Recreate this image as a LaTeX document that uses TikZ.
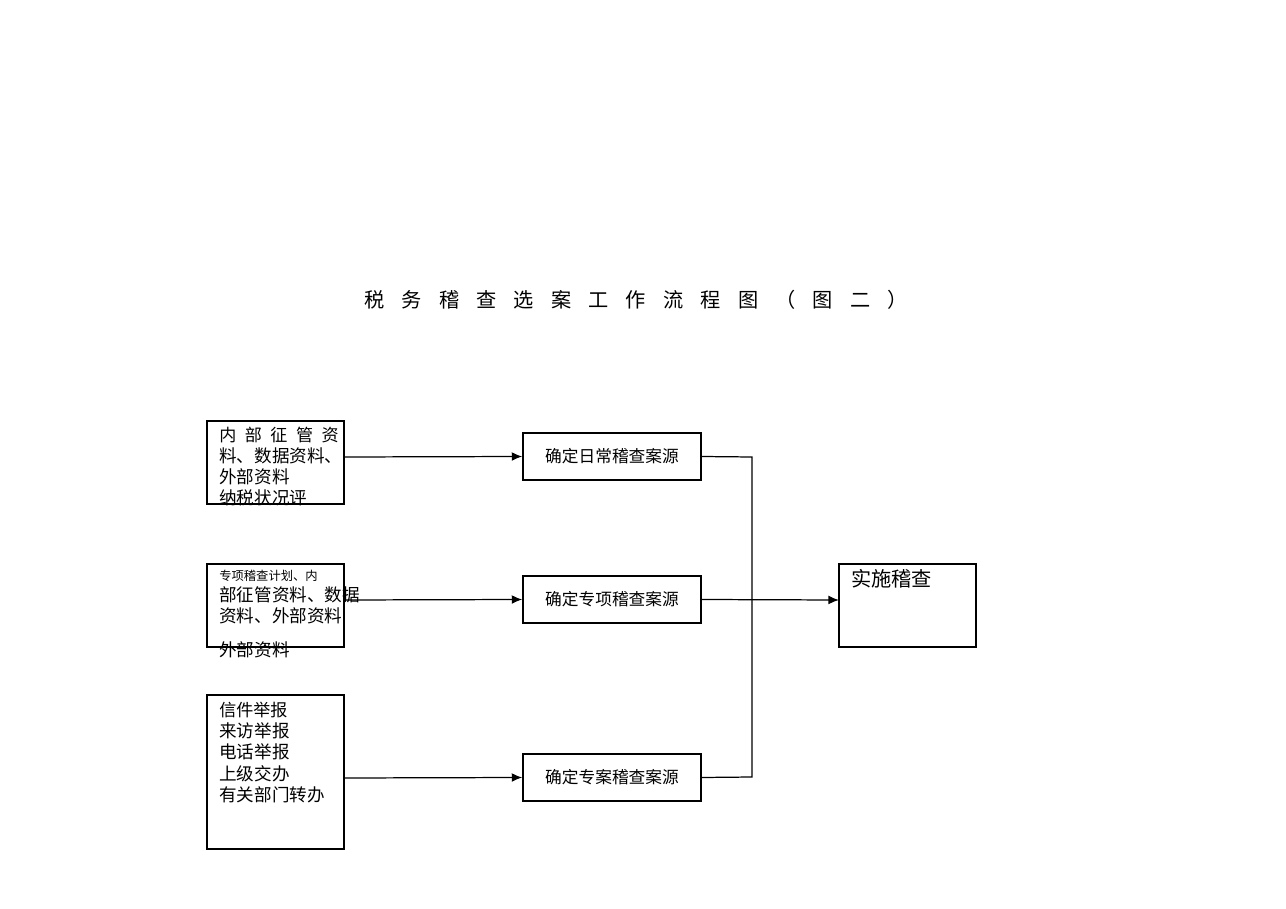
\documentclass[tikz,border=0pt]{standalone}
\usepackage{fontspec}
\setmainfont{Noto Sans CJK SC}
\usetikzlibrary{arrows.meta}
\begin{document}
\begin{tikzpicture}[x=0.02cm,y=-0.02cm,
 box/.style={draw,line width=0.8pt,inner sep=0pt},
 src/.style={anchor=north west,align=left,inner sep=0pt},
 arr/.style={-{Latex[length=6pt,width=5pt]},line width=0.7pt}]
\useasboundingbox (0,0) rectangle (1286,909);
\node (t) at (636,300) {\fontsize{11.5}{12}\selectfont 税\hspace{0.85em}务\hspace{0.85em}稽\hspace{0.85em}查\hspace{0.85em}选\hspace{0.85em}案\hspace{0.85em}工\hspace{0.85em}作\hspace{0.85em}流\hspace{0.85em}程\hspace{0.85em}图\hspace{0.85em}（\hspace{0.85em}图\hspace{0.85em}二\hspace{0.85em}）};
\draw[box] (207,421) rectangle (344,504);
\coordinate (a1) at (344,457);
\node[src] at (219,427) {\fontsize{9.7}{10.3}\selectfont 内\hspace{0.5em}部\hspace{0.5em}征\hspace{0.5em}管\hspace{0.5em}资\\料、数据资料、\\外部资料\\纳税状况评};
\draw[box] (207,564) rectangle (344,647);
\coordinate (a2) at (344,600);
\node[src] at (219,570) {\fontsize{7}{6.9}\selectfont 专项稽查计划、内\\部征管资料、数据\\资料、外部资料\\[6.9pt]外部资料};
\draw[box] (207,695) rectangle (344,849);
\coordinate (a3) at (344,778);
\node[src] at (219,702) {\fontsize{9.7}{10.3}\selectfont 信件举报\\来访举报\\电话举报\\上级交办\\有关部门转办};
\node[box,minimum width=178*0.02cm,minimum height=47*0.02cm] (b1) at (612,456.5) {\fontsize{9.5}{10}\selectfont 确定日常稽查案源};
\node[box,minimum width=178*0.02cm,minimum height=47*0.02cm] (b2) at (612,599.5) {\fontsize{9.5}{10}\selectfont 确定专项稽查案源};
\node[box,minimum width=178*0.02cm,minimum height=47*0.02cm] (b3) at (612,777.5) {\fontsize{9.5}{10}\selectfont 确定专案稽查案源};
\draw[box] (839,564) rectangle (976,647);
\coordinate (c) at (839,600);
\node[src] at (851,569) {\fontsize{11.5}{12}\selectfont 实施稽查};
\draw[arr] (a1) -- (b1.west);
\draw[arr] (a2) -- (b2.west);
\draw[arr] (a3) -- (b3.west);
\draw[line width=0.7pt] (b1.east) -- (752,457) -- (752,777) -- (b3.east);
\draw[arr] (b2.east) -- (c);
\end{tikzpicture}
\end{document}
